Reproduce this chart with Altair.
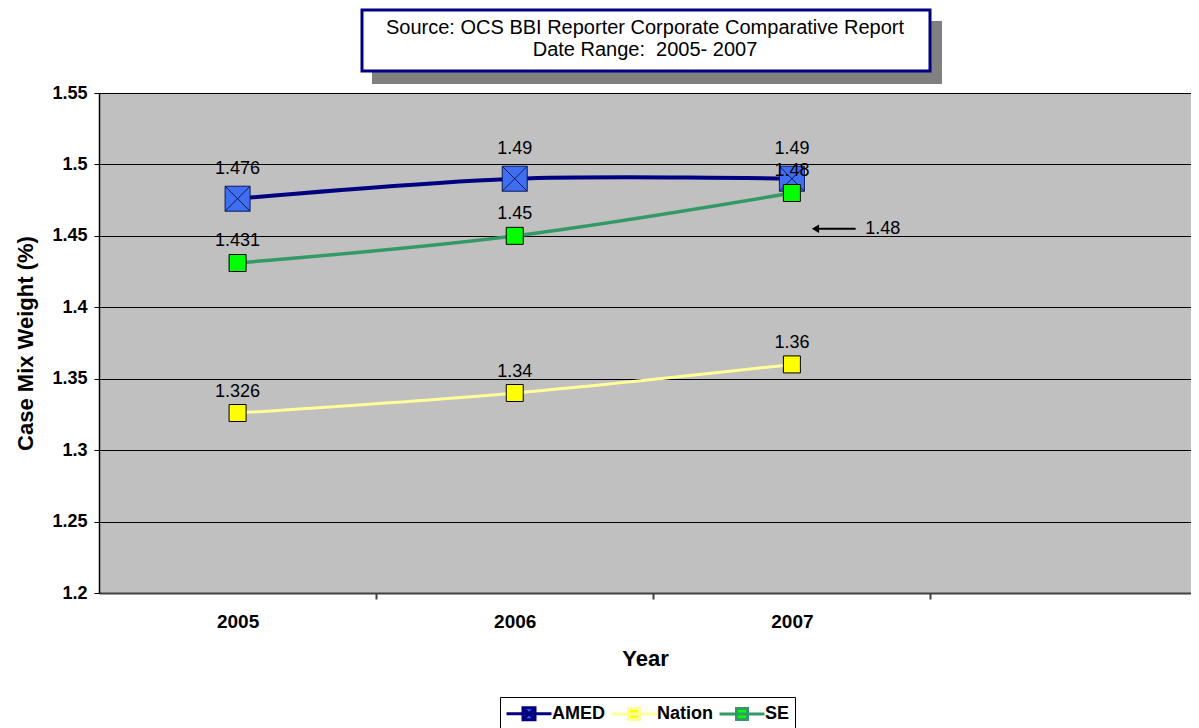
import altair as alt
import pandas as pd

# ---- data ----
years = [2005, 2006, 2007]
series_names = ["AMED", "Nation", "SE"]
amed_values = [1.476, 1.49, 1.49]
nation_values = [1.326, 1.34, 1.36]
se_values = [1.431, 1.45, 1.48]

y_ticks = [1.2, 1.25, 1.3, 1.35, 1.4, 1.45, 1.5, 1.55]
y_domain = [1.2, 1.55]
band_edges = [2005.5, 2006.5, 2007.5]
x_domain = [2004.5, 2008.44]

title_lines = ["Source: OCS BBI Reporter Corporate Comparative Report",
               "Date Range:\u00a0 2005- 2007"]
x_title = "Year"
y_title = "Case Mix Weight (%)"

note_text = ["1.48"]
note_y = [1.455]
note_x_start = [2007.085]
note_x_end = [2007.23]
note_text_x = [2007.265]

line_colors = ["#000080", "#ffff99", "#339966"]
fill_colors = ["#3f6ff0", "#ffff00", "#00ff00"]
line_widths = [4, 3, 3.5]
label_dy = [-30, -21, -22]

FONT = "Liberation Sans"
W, H = 1092, 500

rows = []
for name, vals in zip(series_names, [amed_values, nation_values, se_values]):
    for yr, v in zip(years, vals):
        rows.append({"year": yr, "series": name, "value": v, "label": f"{v:g}"})
df = pd.DataFrame(rows)

one = pd.DataFrame({"k": [0]})
notes = pd.DataFrame({"x1": note_x_start, "x2": note_x_end, "xt": note_text_x,
                      "y": note_y, "t": note_text})
edges = pd.DataFrame({"edge": band_edges})

xscale = alt.Scale(domain=x_domain, nice=False, zero=False)
yscale = alt.Scale(domain=y_domain, nice=False, zero=False)

x_axis = alt.Axis(values=years, format="d", ticks=False, tickSize=0, grid=False,
                  title=x_title, orient="bottom",
                  labelFont=FONT, labelFontSize=19, labelFontWeight="bold",
                  labelColor="black", labelPadding=19,
                  domainColor="#404040", domainWidth=2,
                  titleFont=FONT, titleFontSize=22, titleFontWeight="bold",
                  titleColor="black", titleY=65, titleBaseline="middle")
y_axis = alt.Axis(values=y_ticks, format=".2~f", grid=True, gridColor="black",
                  gridWidth=1, gridOpacity=1,
                  tickSize=5, tickColor="black", domainColor="black", domainWidth=1.5,
                  labelFont=FONT, labelFontSize=18, labelFontWeight="bold",
                  labelColor="black", labelPadding=7,
                  title=y_title, titleFont=FONT, titleFontSize=22,
                  titleFontWeight="bold", titleColor="black",
                  titleAngle=270, titleX=-74, titleY=250, titleAlign="center",
                  titleBaseline="middle")


def X(field):
    return alt.X(field, scale=xscale, axis=x_axis)


def Y(field):
    return alt.Y(field, scale=yscale, axis=y_axis)


# ---- title box ----
shadow = alt.Chart(one).mark_rect(fill="#808080").encode(
    x=alt.value(273), x2=alt.value(843), y=alt.value(-72), y2=alt.value(-9))
box = alt.Chart(one).mark_rect(fill="white", stroke="#000080", strokeWidth=3).encode(
    x=alt.value(263), x2=alt.value(831), y=alt.value(-83), y2=alt.value(-22))
title_l1 = alt.Chart(one).mark_text(font=FONT, fontSize=20, color="black",
                                    align="center", baseline="middle").encode(
    x=alt.value(546), y=alt.value(-65), text=alt.value(title_lines[0]))
title_l2 = alt.Chart(one).mark_text(font=FONT, fontSize=20, color="black",
                                    align="center", baseline="middle").encode(
    x=alt.value(546), y=alt.value(-43), text=alt.value(title_lines[1]))

# ---- series ----
layers = []
for i, name in enumerate(series_names):
    sub = alt.Chart(df).transform_filter(alt.datum.series == name)
    layers.append(sub.mark_line(color=line_colors[i], strokeWidth=line_widths[i],
                                interpolate="catmull-rom").encode(
        x=X("year:Q"), y=Y("value:Q")))

amed_shape = "M-1,-1H1V1H-1ZM-1,-1L1,1M1,-1L-1,1"
for i, name in enumerate(series_names):
    sub = alt.Chart(df).transform_filter(alt.datum.series == name)
    if name == "AMED":
        mk = sub.mark_point(shape=amed_shape, size=625, filled=True, fill=fill_colors[i],
                            stroke="#0a1a5c", strokeWidth=1, opacity=1)
    else:
        mk = sub.mark_point(shape="square", size=289, filled=True, fill=fill_colors[i],
                            stroke="black", strokeWidth=1, opacity=1)
    layers.append(mk.encode(x=X("year:Q"), y=Y("value:Q")))

for i, name in enumerate(series_names):
    sub = alt.Chart(df).transform_filter(alt.datum.series == name)
    layers.append(sub.mark_text(font=FONT, fontSize=18, color="black", dy=label_dy[i],
                                baseline="middle").encode(
        x=X("year:Q"), y=Y("value:Q"), text="label:N"))

# ---- annotation arrow ----
arrow_line = alt.Chart(notes).mark_rule(color="black", strokeWidth=2).encode(
    x=X("x1:Q"), x2="x2:Q", y=Y("y:Q"))
arrow_head = alt.Chart(notes).mark_point(shape="triangle-left", size=70, filled=True,
                                         color="black", opacity=1).encode(
    x=X("x1:Q"), y=Y("y:Q"))
arrow_text = alt.Chart(notes).mark_text(font=FONT, fontSize=18, color="black",
                                        align="left", baseline="middle").encode(
    x=X("xt:Q"), y=Y("y:Q"), text="t:N")

# ---- legend (built from scales, no marks drawn) ----
leg_amed = "M-1,0H3.5M0.65,-0.6H1.85V0.6H0.65ZM0.65,-0.6L1.85,0.6M1.85,-0.6L0.65,0.6"
leg_sq = "M-1,0H3.5M0.7,-0.55H1.8V0.55H0.7Z"
legend = alt.Legend(orient="none", legendX=401, legendY=604, direction="horizontal",
                    title=None, strokeColor="black", fillColor="white",
                    padding=5, symbolSize=400, symbolStrokeWidth=3,
                    labelFont=FONT, labelFontSize=18, labelFontWeight="bold",
                    labelColor="black", labelOffset=24, columnPadding=0,
                    symbolOpacity=1)
legend_layer = alt.Chart(df).transform_filter("datum.value < 0").mark_point(
    filled=True, opacity=1, strokeWidth=3).encode(
    x=X("year:Q"), y=Y("value:Q"),
    stroke=alt.Stroke("series:N", scale=alt.Scale(domain=series_names, range=line_colors),
                      legend=legend),
    fill=alt.Fill("series:N", scale=alt.Scale(domain=series_names, range=fill_colors),
                  legend=legend),
    shape=alt.Shape("series:N", scale=alt.Scale(domain=series_names,
                                                range=[leg_amed, leg_sq, leg_sq]),
                    legend=legend))

main = alt.layer(shadow, box, title_l1, title_l2, *layers,
                 arrow_line, arrow_head, arrow_text, legend_layer)

edge_ticks = alt.Chart(edges).mark_point(opacity=0).encode(
    x=alt.X("edge:Q", scale=xscale,
            axis=alt.Axis(values=band_edges, labels=False, ticks=True, tickSize=6,
                          tickColor="#404040", tickWidth=2, domain=False, grid=False,
                          title=None, orient="bottom")),
    y=alt.value(0))

chart = alt.layer(main, edge_ticks).resolve_axis(x="independent").properties(
    width=W, height=H,
    autosize=alt.AutoSizeParams(type="none"),
    padding={"left": 91, "top": 85, "right": 0, "bottom": 135},
    background="white",
).configure_view(fill="#c0c0c0", stroke="transparent")

chart.save("out.html", embed_options={"renderer": "svg", "actions": False})
